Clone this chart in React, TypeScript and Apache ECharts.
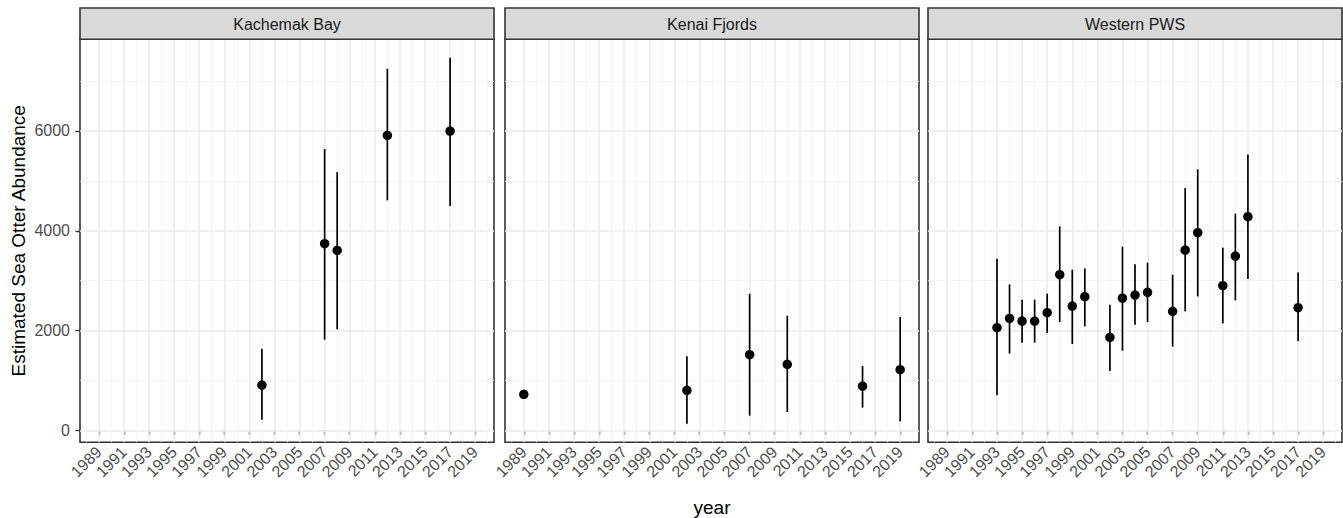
import React, { useEffect, useRef } from "react";
import * as echarts from "echarts";

// ---------- data ----------
const panelNames = ["Kachemak Bay", "Kenai Fjords", "Western PWS"];

const tickYears = [1989, 1991, 1993, 1995, 1997, 1999, 2001, 2003, 2005, 2007, 2009, 2011, 2013, 2015, 2017, 2019];
const minorYears = [1988, 1990, 1992, 1994, 1996, 1998, 2000, 2002, 2004, 2006, 2008, 2010, 2012, 2014, 2016, 2018, 2020];
const yTicks = [0, 2000, 4000, 6000];
const yMinor = [1000, 3000, 5000, 7000];

const kbYears = [2002, 2007, 2008, 2012, 2017];
const kbEst = [908, 3741, 3607, 5912, 5998];
const kbLow = [214, 1818, 2024, 4609, 4495];
const kbHigh = [1637, 5637, 5176, 7248, 7469];

const kfYears = [1989, 2002, 2007, 2010, 2016, 2019];
const kfEst = [721, 802, 1517, 1323, 888, 1216];
const kfLow = [680, 134, 294, 367, 455, 180];
const kfHigh = [770, 1483, 2739, 2298, 1289, 2271];

const wpYears = [1993, 1994, 1995, 1996, 1997, 1998, 1999, 2000, 2002, 2003, 2004, 2005, 2007, 2008, 2009, 2011, 2012, 2013, 2017];
const wpEst = [2058, 2244, 2190, 2190, 2358, 3120, 2491, 2679, 1864, 2652, 2712, 2766, 2385, 3613, 3961, 2899, 3493, 4282, 2458];
const wpLow = [701, 1537, 1757, 1757, 1951, 2171, 1730, 2084, 1189, 1597, 2117, 2171, 1677, 2385, 2685, 2144, 2605, 3032, 1790];
const wpHigh = [3440, 2926, 2619, 2619, 2739, 4088, 3220, 3246, 2518, 3681, 3327, 3360, 3120, 4856, 5230, 3661, 4342, 5531, 3166];

const xMin = 1987.5;
const xMax = 2020.5;
const yMin = -240;
const yMax = 7838;

// ---------- layout ----------
const W = 1343;
const H = 518;
const PANEL_LEFT = [80, 505, 928];
const PANEL_W = 414;
const STRIP_TOP = 8;
const PANEL_TOP = 39.3;
const PANEL_BOTTOM = 442.3;
const FONT = "'Liberation Sans', Arial, Helvetica, sans-serif";

export default function App() {
  const ref = useRef<HTMLDivElement>(null);

  useEffect(() => {
    if (!ref.current) return;
    const chart = echarts.init(ref.current, null, { renderer: "svg", width: W, height: H });

    const panels = [
      { years: kbYears, est: kbEst, low: kbLow, high: kbHigh },
      { years: kfYears, est: kfEst, low: kfLow, high: kfHigh },
      { years: wpYears, est: wpEst, low: wpLow, high: wpHigh },
    ];

    const majorStyle = { color: "#ebebeb", width: 1.5, type: "solid" };
    const minorStyle = { color: "#f2f2f2", width: 0.8, type: "solid" };

    const gridLineData = [
      ...minorYears.map((v) => ({ xAxis: v, lineStyle: minorStyle })),
      ...yMinor.map((v) => ({ yAxis: v, lineStyle: minorStyle })),
      ...tickYears.map((v) => ({ xAxis: v, lineStyle: majorStyle })),
      ...yTicks.map((v) => ({ yAxis: v, lineStyle: majorStyle })),
    ];

    const grid = panels.map((_, i) => ({
      left: PANEL_LEFT[i],
      top: PANEL_TOP,
      width: PANEL_W,
      height: PANEL_BOTTOM - PANEL_TOP,
      show: true,
      borderColor: "#333333",
      borderWidth: 1.6,
      backgroundColor: "#ffffff",
      containLabel: false,
      outerBoundsMode: "none",
    }));

    const xAxis = panels.map((_, i) => ({
      type: "value",
      gridIndex: i,
      min: xMin,
      max: xMax,
      splitLine: { show: false },
      minorSplitLine: { show: false },
      axisLine: { show: false },
      axisTick: {
        show: true,
        length: 4.5,
        customValues: tickYears,
        lineStyle: { color: "#333333", width: 1.4 },
      },
      axisLabel: {
        show: true,
        customValues: tickYears,
        rotate: 45,
        margin: 7,
        color: "#4d4d4d",
        fontSize: 16,
        fontFamily: FONT,
        formatter: (v: number) => String(v),
      },
    }));

    const yAxis = panels.map((_, i) => ({
      type: "value",
      gridIndex: i,
      min: yMin,
      max: yMax,
      splitLine: { show: false },
      minorSplitLine: { show: false },
      axisLine: { show: false },
      axisTick: {
        show: i === 0,
        length: 4.5,
        customValues: yTicks,
        lineStyle: { color: "#333333", width: 1.4 },
      },
      axisLabel: {
        show: i === 0,
        customValues: yTicks,
        margin: 10,
        color: "#4d4d4d",
        fontSize: 16,
        fontFamily: FONT,
        formatter: (v: number) => String(v),
      },
    }));

    const series: any[] = [];
    panels.forEach((p, i) => {
      series.push({
        type: "custom",
        xAxisIndex: i,
        yAxisIndex: i,
        silent: true,
        z: 2,
        encode: { x: 0, y: [1, 2] },
        data: p.years.map((y, k) => [y, p.low[k], p.high[k]]),
        renderItem: (_params: any, api: any) => {
          const a = api.coord([api.value(0), api.value(1)]);
          const b = api.coord([api.value(0), api.value(2)]);
          return {
            type: "line",
            shape: { x1: a[0], y1: a[1], x2: b[0], y2: b[1] },
            style: { stroke: "#000000", lineWidth: 1.7 },
          };
        },
      });
      series.push({
        type: "scatter",
        xAxisIndex: i,
        yAxisIndex: i,
        silent: true,
        z: 3,
        symbol: "circle",
        symbolSize: 9.5,
        itemStyle: { color: "#000000", opacity: 1 },
        data: p.years.map((y, k) => [y, p.est[k]]),
        markLine: {
          silent: true,
          z: 1,
          symbol: ["none", "none"],
          label: { show: false },
          animation: false,
          emphasis: { disabled: true },
          data: gridLineData,
        },
      });
    });

    const graphic: any[] = [];
    panelNames.forEach((name, i) => {
      graphic.push({
        type: "rect",
        shape: { x: PANEL_LEFT[i], y: STRIP_TOP, width: PANEL_W, height: PANEL_TOP - STRIP_TOP },
        style: { fill: "#d9d9d9", stroke: "#333333", lineWidth: 1.6 },
        z: 10,
      });
      graphic.push({
        type: "text",
        x: PANEL_LEFT[i] + PANEL_W / 2,
        y: (STRIP_TOP + PANEL_TOP) / 2 + 0.5,
        style: {
          text: name,
          fontSize: 16,
          fontFamily: FONT,
          fill: "#1a1a1a",
          align: "center",
          verticalAlign: "middle",
        },
        z: 11,
      });
    });
    graphic.push({
      type: "text",
      x: 18,
      y: (PANEL_TOP + PANEL_BOTTOM) / 2,
      rotation: Math.PI / 2,
      style: {
        text: "Estimated Sea Otter Abundance",
        fontSize: 19,
        fontFamily: FONT,
        fill: "#000000",
        align: "center",
        verticalAlign: "middle",
      },
    });
    graphic.push({
      type: "text",
      x: PANEL_LEFT[1] + PANEL_W / 2,
      y: 507,
      style: {
        text: "year",
        fontSize: 19,
        fontFamily: FONT,
        fill: "#000000",
        align: "center",
        verticalAlign: "middle",
      },
    });

    chart.setOption({
      animation: false,
      backgroundColor: "#ffffff",
      grid,
      xAxis,
      yAxis,
      series,
      graphic,
    });

    return () => {
      chart.dispose();
    };
  }, []);

  return (
    <div
      ref={ref}
      style={{ position: "absolute", left: 0, top: 0, width: W, height: H }}
    />
  );
}
